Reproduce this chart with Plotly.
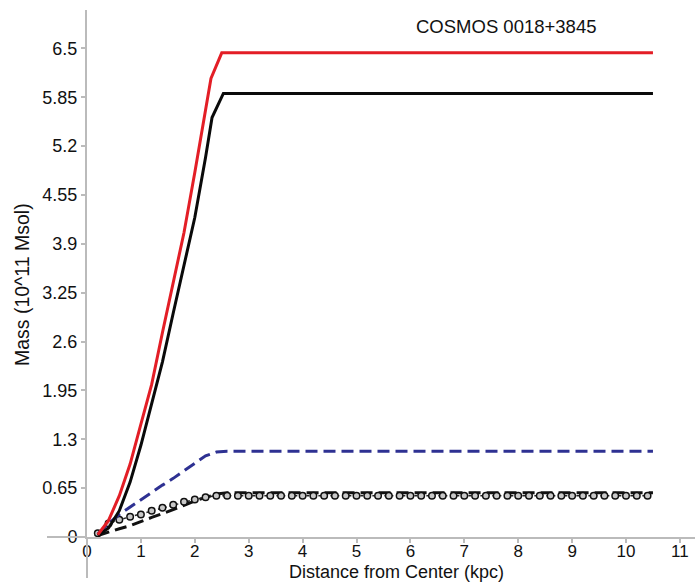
import plotly.graph_objects as go

# ---- data ----
x_red = [0.2, 0.4, 0.6, 0.8, 1.0, 1.2, 1.4, 1.6, 1.8, 2.0, 2.2, 2.3, 2.5, 10.5]
y_red = [0.03, 0.22, 0.55, 0.97, 1.50, 2.03, 2.72, 3.40, 4.05, 4.85, 5.65, 6.10, 6.44, 6.44]

x_black = [0.2, 0.4, 0.6, 0.8, 1.0, 1.2, 1.4, 1.6, 1.8, 2.0, 2.2, 2.32, 2.53, 10.5]
y_black = [0.02, 0.12, 0.35, 0.73, 1.22, 1.78, 2.33, 2.98, 3.60, 4.25, 5.05, 5.58, 5.90, 5.90]

x_blue = [0.2, 0.4, 0.6, 0.8, 1.0, 1.2, 1.4, 1.6, 1.8, 2.0, 2.2, 2.4, 2.6, 10.5]
y_blue = [0.04, 0.18, 0.30, 0.40, 0.49, 0.59, 0.69, 0.78, 0.88, 0.99, 1.08, 1.13, 1.14, 1.14]

x_bdash = [0.2, 0.4, 0.6, 0.8, 1.0, 1.2, 1.4, 1.6, 1.8, 2.0, 2.2, 2.4, 2.6, 10.5]
y_bdash = [0.02, 0.07, 0.11, 0.15, 0.21, 0.26, 0.31, 0.36, 0.42, 0.48, 0.53, 0.57, 0.59, 0.59]

x_circ = [0.2, 0.4, 0.6, 0.8, 1.0, 1.2, 1.4, 1.6, 1.8, 2.0, 2.2, 2.4, 2.6, 2.8,
          3.0, 3.2, 3.4, 3.6, 3.8, 4.0, 4.2, 4.4, 4.6, 4.8, 5.0, 5.2, 5.4, 5.6,
          5.8, 6.0, 6.2, 6.4, 6.6, 6.8, 7.0, 7.2, 7.4, 7.6, 7.8, 8.0, 8.2, 8.4,
          8.6, 8.8, 9.0, 9.2, 9.4, 9.6, 9.8, 10.0, 10.2, 10.4]
y_circ = [0.05, 0.18, 0.23, 0.27, 0.30, 0.35, 0.39, 0.43, 0.47, 0.50, 0.53, 0.55, 0.55, 0.55,
          0.55, 0.55, 0.55, 0.55, 0.55, 0.55, 0.55, 0.55, 0.55, 0.55, 0.55, 0.55, 0.55, 0.55,
          0.55, 0.55, 0.55, 0.55, 0.55, 0.55, 0.55, 0.55, 0.55, 0.55, 0.55, 0.55, 0.55, 0.55,
          0.55, 0.55, 0.55, 0.55, 0.55, 0.55, 0.55, 0.55, 0.55, 0.55]

x_ticks = [0, 1, 2, 3, 4, 5, 6, 7, 8, 9, 10, 11]
y_ticks = [0, 0.65, 1.3, 1.95, 2.6, 3.25, 3.9, 4.55, 5.2, 5.85, 6.5]
y_tick_labels = ["0", "0.65", "1.3", "1.95", "2.6", "3.25", "3.9", "4.55", "5.2", "5.85", "6.5"]

title_text = "COSMOS 0018+3845"
x_title = "Distance from Center (kpc)"
y_title = "Mass (10^11 Msol)"

W, H = 695, 583
ML, MR, MT, MB = 87, 0, 10, 46

fig = go.Figure()
fig.add_trace(go.Scatter(x=x_bdash, y=y_bdash, mode="lines",
                         line=dict(color="#111111", width=3, dash="12px,6px")))
fig.add_trace(go.Scatter(x=x_circ, y=y_circ, mode="lines+markers",
                         line=dict(color="#222222", width=1.5, dash="dot"),
                         marker=dict(symbol="circle", size=6.5, color="#c8c8c8",
                                     line=dict(color="#111111", width=1.5))))
fig.add_trace(go.Scatter(x=x_blue, y=y_blue, mode="lines",
                         line=dict(color="#2e3192", width=3, dash="12px,6px")))
fig.add_trace(go.Scatter(x=x_black, y=y_black, mode="lines",
                         line=dict(color="#0a0a0a", width=3)))
fig.add_trace(go.Scatter(x=x_red, y=y_red, mode="lines",
                         line=dict(color="#e31e26", width=3)))

axis_color = "#bbbbbb"
fig.update_layout(
    width=W, height=H,
    margin=dict(l=ML, r=MR, t=MT, b=MB),
    paper_bgcolor="white", plot_bgcolor="white",
    showlegend=False,
    font=dict(family="Liberation Sans, Arial, sans-serif", color="#111111", size=18),
    xaxis=dict(range=[0, 11.28], tickvals=x_ticks, showgrid=False, zeroline=False,
               showline=True, linecolor=axis_color, linewidth=2,
               ticks="outside", ticklen=4, tickcolor=axis_color, tickwidth=1.5,
               ticklabelstandoff=-6,
               tickfont=dict(size=17)),
    yaxis=dict(range=[0, 7.01], tickvals=y_ticks, ticktext=y_tick_labels,
               showgrid=False, zeroline=False,
               showline=True, linecolor=axis_color, linewidth=2,
               ticks="outside", ticklen=4, tickcolor=axis_color, tickwidth=1.5,
               tickfont=dict(size=18)),
)

pw = W - ML - MR
ph = H - MT - MB
# extensions of axis lines beyond the origin
fig.add_shape(type="line", xref="paper", yref="paper",
              x0=-(ML - 47) / pw, x1=0, y0=0, y1=0,
              line=dict(color=axis_color, width=2))
fig.add_shape(type="line", xref="paper", yref="paper",
              x0=0, x1=0, y0=-(578 - (H - MB)) / ph, y1=0,
              line=dict(color=axis_color, width=2))

fig.add_annotation(text=title_text, xref="paper", yref="paper",
                   x=(506 - ML) / pw, y=1 - (27 - MT) / ph, showarrow=False,
                   font=dict(size=18.5), xanchor="center", yanchor="middle")
fig.add_annotation(text=x_title, xref="paper", yref="paper",
                   x=(396 - ML) / pw, y=-(572 - (H - MB)) / ph, showarrow=False,
                   font=dict(size=18), xanchor="center", yanchor="middle")
fig.add_annotation(text=y_title, xref="paper", yref="paper",
                   x=-(ML - 22) / pw, y=1 - (285 - MT) / ph, showarrow=False,
                   textangle=-90, font=dict(size=19.5), xanchor="center", yanchor="middle")

fig.write_html("out.html")
